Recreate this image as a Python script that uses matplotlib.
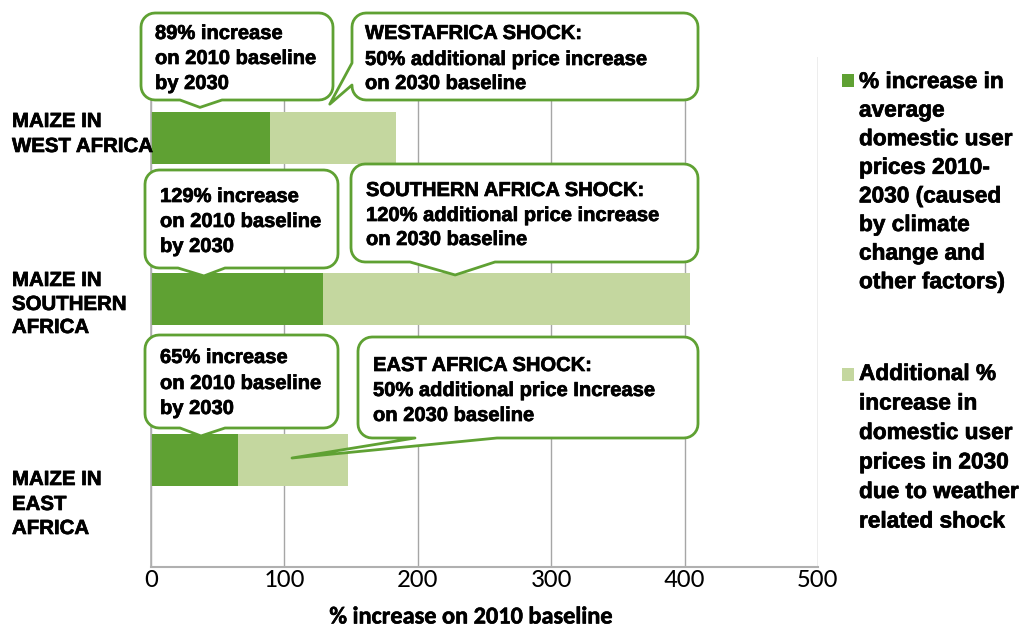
import matplotlib
matplotlib.use("Agg")
import matplotlib.pyplot as plt
import matplotlib.patheffects as pe
import numpy as np
from matplotlib.patches import Polygon, Rectangle
from matplotlib import font_manager as fm

# ---------------- data ----------------
regions = ["MAIZE IN\nWEST AFRICA", "MAIZE IN\nSOUTHERN\nAFRICA", "MAIZE IN\nEAST\nAFRICA"]
base_increase = [89, 129, 65]          # % increase 2010-2030
shock_pct = [50, 120, 50]              # additional % on 2030 baseline
shock_increase = [(100 + b) * s / 100 for b, s in zip(base_increase, shock_pct)]
xticks = [0, 100, 200, 300, 400, 500]
legend_labels = [
    "% increase in\naverage\ndomestic user\nprices 2010-\n2030 (caused\nby climate\nchange and\nother factors)",
    "Additional %\nincrease in\ndomestic user\nprices in 2030\ndue to weather\nrelated shock",
]
callout_texts = [
    "89% increase\non 2010 baseline\nby 2030",
    "WESTAFRICA SHOCK:\n50% additional price increase\non 2030 baseline",
    "129% increase\non 2010 baseline\nby 2030",
    "SOUTHERN AFRICA SHOCK:\n120% additional price increase\non 2030 baseline",
    "65% increase\non 2010 baseline\nby 2030",
    "EAST AFRICA SHOCK:\n50% additional price Increase\non 2030 baseline",
]

DARK = "#5FA133"
LIGHT = "#C4D79F"
W, H = 1023, 628

names = set(f.name for f in fm.fontManager.ttflist)
TICKFONT = "Carlito" if "Carlito" in names else "Lato"
tick_size = 19.5 if TICKFONT == "Carlito" else 16.8
xlab_size = 17.5 if TICKFONT == "Carlito" else 18.0

BOLD_FX = [pe.withStroke(linewidth=0.5, foreground="black")]

fig = plt.figure(figsize=(W / 100, H / 100), dpi=100)
ax = fig.add_axes([151 / W, (H - 567) / H, (818 - 151) / W, (567 - 57) / H])
y = np.arange(len(regions))
bh = 0.323
ax.barh(y, base_increase, height=bh, color=DARK, zorder=2)
ax.barh(y, shock_increase, left=base_increase, height=bh, color=LIGHT, zorder=2)
ax.set_xlim(0, 500)
ax.set_ylim(2.665, -0.503)
ax.set_xticks(xticks)
ax.set_xticklabels([str(t) for t in xticks], family=TICKFONT, fontsize=tick_size)
ax.set_yticks([])
ax.tick_params(axis="x", length=0, pad=1)
ax.xaxis.grid(True, color="#A6A6A6", linewidth=1.0, zorder=0)
ax.set_axisbelow(True)
for s in ["top", "right"]:
    ax.spines[s].set_visible(False)
ax.spines["left"].set_color("#B0B0B0")
ax.spines["bottom"].set_color("#B0B0B0")
ax.spines["left"].set_linewidth(1.2)
ax.spines["bottom"].set_linewidth(1.5)
ax.set_xlabel("% increase on 2010 baseline", family=TICKFONT, fontweight="bold",
              fontsize=xlab_size, path_effects=[pe.withStroke(linewidth=0.4, foreground="black")])
ax.xaxis.set_label_coords((471 - 151) / (818 - 151), -(617 - 567) / (567 - 57))
ax.xaxis.label.set_va("center")

# overlay in image-pixel coordinates
ov = fig.add_axes([0, 0, 1, 1], zorder=5)
ov.set_xlim(0, W)
ov.set_ylim(H, 0)
ov.axis("off")
ov.patch.set_alpha(0)


def data_to_px(x, yv):
    dx, dy = ax.transData.transform((x, yv))
    return dx, H - dy


def rounded_box(x0, y0, x1, y1, r, tail=None, side="bottom"):
    pts = []
    n = 8

    def arc(cx, cy, a0, a1):
        for a in np.linspace(a0, a1, n):
            pts.append((cx + r * np.cos(a), cy + r * np.sin(a)))
    arc(x0 + r, y0 + r, np.pi, 1.5 * np.pi)
    arc(x1 - r, y0 + r, 1.5 * np.pi, 2 * np.pi)
    arc(x1 - r, y1 - r, 0, 0.5 * np.pi)
    if tail is not None and side == "bottom":
        (bl, br, tip) = tail
        pts.append((br, y1))
        pts.append(tip)
        pts.append((bl, y1))
    arc(x0 + r, y1 - r, 0.5 * np.pi, np.pi)
    if tail is not None and side == "left":
        (bb, bt, tip) = tail
        pts.append((x0, bb))
        pts.append(tip)
        pts.append((x0, bt))
    return pts


callouts = [
    ((141, 13, 333, 100), 155, [39, 64, 89], (180, 222), (36.7, -0.19), "bottom"),
    ((352, 13, 698, 100), 365, [39, 65, 89], (85, 63), (134, -0.21), "left"),
    ((145, 170, 338, 268), 160, [202, 227, 252], (178, 225), (39.7, 0.857), "bottom"),
    ((351, 164, 698, 262), 366, [196, 221, 245], (410, 495), (228, 0.851), "bottom"),
    ((145, 335, 338, 428), 160, [363, 389, 414], (180, 225), (37.5, 1.851), "bottom"),
    ((358, 337, 698, 438), 373, [371, 396, 421], (415, 497), (105.7, 1.988), "bottom"),
]

for txt, (box, tx, bls, base, tipd, side) in zip(callout_texts, callouts):
    x0, y0, x1, y1 = box
    tip = data_to_px(*tipd)
    pts = rounded_box(x0, y0, x1, y1, 14, tail=(base[0], base[1], tip), side=side)
    ov.add_patch(Polygon(pts, closed=True, facecolor="white", edgecolor=DARK,
                         linewidth=2.0, joinstyle="round"))
    for line, bl in zip(txt.split("\n"), bls):
        ov.text(tx, bl, line, family="Liberation Sans", fontweight="bold",
                fontsize=14.5, va="baseline", ha="left", color="black",
                path_effects=BOLD_FX)

# category labels
cat_baselines = [[127, 152], [286, 310, 333], [485, 510, 534]]
for lab, bls in zip(regions, cat_baselines):
    for line, bl in zip(lab.split("\n"), bls):
        ov.text(12, bl, line, family="Liberation Sans", fontweight="bold",
                fontsize=14.7, va="baseline", ha="left", color="black",
                path_effects=BOLD_FX)

# legend
leg_specs = [(DARK, 74, 88, 28.6), (LIGHT, 368, 380, 29.5)]
for lab, (col, sq_y, bl0, step) in zip(legend_labels, leg_specs):
    ov.add_patch(Rectangle((842, sq_y), 12, 13, facecolor=col, edgecolor="none"))
    for i, line in enumerate(lab.split("\n")):
        ov.text(859, bl0 + i * step, line, family="Liberation Sans", fontweight="bold",
                fontsize=16.3, va="baseline", ha="left", color="black",
                path_effects=BOLD_FX)

fig.savefig("out.png", dpi=100)
